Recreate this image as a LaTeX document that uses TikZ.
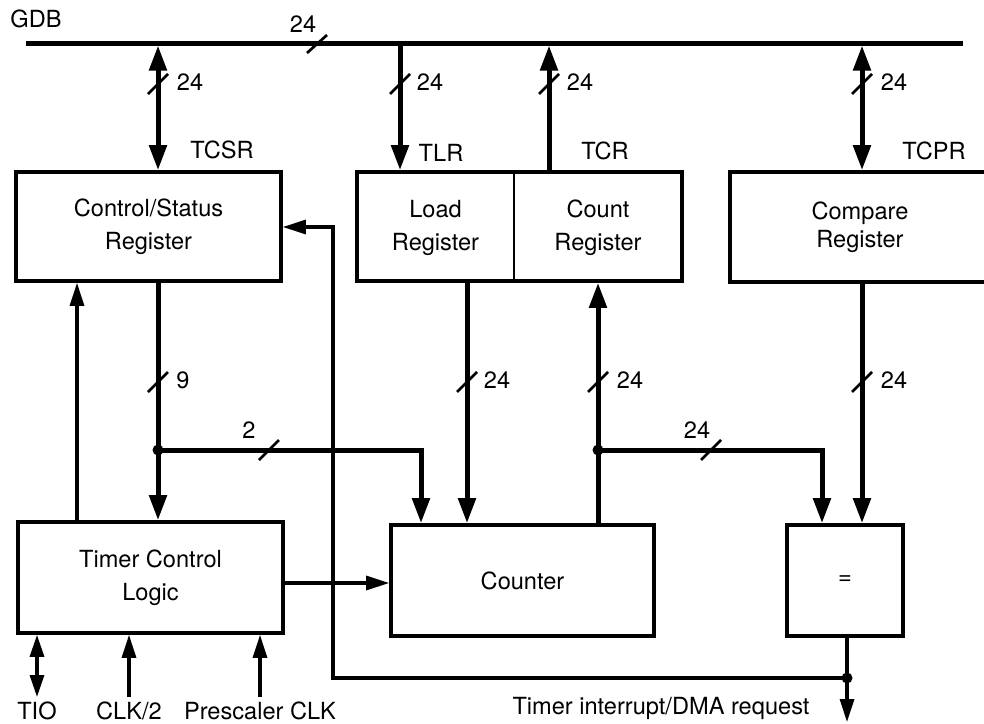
\documentclass[tikz,border=0pt]{standalone}
\usepackage{fontspec}
\setmainfont{TeX Gyre Heros}
\usetikzlibrary{arrows.meta}
\begin{document}
\begin{tikzpicture}[x=1pt,y=-1pt,
  lbl/.style={font=\fontsize{23.6}{33}\selectfont, inner sep=0pt},
  box/.style={draw, line width=3.6pt, align=center, inner sep=0pt, lbl},
  txt/.style={lbl, align=center},
  num/.style={lbl, anchor=base},
  bus/.style={line width=5pt},
  thickarr/.style={line width=5pt, -{Triangle[length=25pt,width=17pt]}},
  thickdbl/.style={line width=5pt, {Triangle[length=25pt,width=17pt]}-{Triangle[length=25pt,width=17pt]}},
  thinline/.style={line width=3.2pt},
  thinarr/.style={line width=3.2pt, -{Triangle[length=23pt,width=14pt]}},
  thindbl/.style={line width=3.2pt, {Triangle[length=22pt,width=14pt]}-{Triangle[length=22pt,width=14pt]}},
  slash/.style={line width=2.7pt},
  dot/.style={circle, fill, inner sep=0pt, minimum size=11pt},
]
\useasboundingbox (0,0) rectangle (984,723);

% ---- boxes
\node[box, minimum width=265pt, minimum height=109pt] (csr) at (148.5,226.5) {Control/Status\\Register};
\node[box, minimum width=325pt, minimum height=109pt] (lcbox) at (519.5,226.5) {};
\node[txt] (load) at (435.5,228) {Load\\Register};
\node[txt] (count) at (598,228) {Count\\Register};
\node[box, minimum width=260pt, minimum height=110pt, font=\fontsize{23.6}{28}\selectfont] (cmp) at (860,227) {Compare\\Register};
\node[box, minimum width=265pt, minimum height=111pt] (tcl) at (150.5,577.5) {Timer Control\\Logic};
\node[box, minimum width=263pt, minimum height=111pt] (ctr) at (522.5,580.5) {Counter};
\node[box, minimum width=116pt, minimum height=111pt] (eq) at (845,580.5) {=};

% divider between Load and Count
\coordinate (div) at (514,226.5);
\draw[line width=1.5pt] (div |- lcbox.north) -- (div |- lcbox.south);

% ---- coordinates
\coordinate (busL) at (26,43);
\coordinate (busR) at (963,43);
\coordinate (tapA) at (158,43);
\coordinate (tapB) at (400,43);
\coordinate (tapC) at (549,43);
\coordinate (tapD) at (862,43);
\coordinate (lx) at (467,400);
\coordinate (fx) at (77,400);
\coordinate (j1) at (158,450);
\coordinate (k1) at (421,450);
\coordinate (j2) at (598,450);
\coordinate (k2) at (822,450);
\coordinate (ty) at (300,583);
\coordinate (o) at (847,678);
\coordinate (fb) at (333,678);
\coordinate (fb2) at (333,227);
\coordinate (irq) at (847,722);
\coordinate (tioE) at (37,697);
\coordinate (clkE) at (129,697);
\coordinate (preE) at (260,697);

% ---- bus
\draw[bus] (busL) -- (busR);
\node[num] (gdb) at (36,27) {GDB};
\node[num] (busw) at (303,32) {24};
\draw[slash] (307,53) -- (327,35);

% ---- bus taps
\draw[thickdbl] ([yshift=-2.5pt]tapA) -- (tapA |- csr.north);
\draw[thickarr] (tapB) -- (tapB |- lcbox.north);
\draw[thickarr] (tapC |- lcbox.north) -- ([yshift=-2.5pt]tapC);
\draw[thickdbl] ([yshift=-2.5pt]tapD) -- (tapD |- cmp.north);
\draw[slash] (148,94) -- (168,74);
\draw[slash] (390,94) -- (410,74);
\draw[slash] (539,94) -- (559,74);
\draw[slash] (852,94) -- (872,74);
\node[num] (wA) at (190,90.5) {24};
\node[num] (wB) at (430,90.5) {24};
\node[num] (wC) at (580,90.5) {24};
\node[num] (wD) at (894,90.5) {24};
\node[num] (ntcsr) at (222,158) {TCSR};
\node[num] (ntlr) at (441,161) {TLR};
\node[num] (ntcr) at (605,159) {TCR};
\node[num] (ntcpr) at (934,159) {TCPR};

% ---- middle thick connections
\draw[thickarr] (tapA |- csr.south) -- (tapA |- tcl.north);
\draw[thickarr] (j1) -- (k1) -- (k1 |- ctr.north);
\draw[thickarr] (lx |- lcbox.south) -- (lx |- ctr.north);
\draw[thickarr] (j2 |- ctr.north) -- (j2 |- lcbox.south);
\draw[thickarr] (j2) -- (k2) -- (k2 |- eq.north);
\draw[thickarr] (tapD |- cmp.south) -- (tapD |- eq.north);
\node[dot] (dj1) at (j1) {};
\node[dot] (dj2) at (j2) {};

\draw[slash] (148,392) -- (168,372);
\draw[slash] (457,392) -- (477,372);
\draw[slash] (588,392) -- (608,372);
\draw[slash] (852,392) -- (872,372);
\draw[slash] (259,460) -- (279,440);
\draw[slash] (701,460) -- (721,440);
\node[num] (w9) at (183,388) {9};
\node[num] (wL) at (497,388) {24};
\node[num] (wK) at (630,388) {24};
\node[num] (wE) at (894,388) {24};
\node[num] (w2) at (249,438) {2};
\node[num] (wB2) at (697,438) {24};

% ---- thin connections
\draw[thinarr] (fx |- tcl.north) -- (fx |- csr.south);
\draw[thinarr] (tcl.east |- ty) -- (ctr.west |- ty);
\draw[thinline] (eq.south -| o) -- (o);
\draw[thinarr] (o) -- (irq);
\draw[thinarr] (o) -- (fb) -- (fb2) -- (csr.east |- fb2);
\node[dot] (dout) at (o) {};
\node[num] (irqlbl) at (661,714) {Timer interrupt/DMA request};

% ---- bottom inputs
\draw[thindbl] (tioE) -- (tioE |- tcl.south);
\draw[thinarr] (clkE) -- (clkE |- tcl.south);
\draw[thinarr] (preE) -- (preE |- tcl.south);
\node[num] (tio) at (37,719) {TIO};
\node[num] (clk) at (129,719) {CLK/2};
\node[num] (pre) at (260,719) {Prescaler CLK};
\end{tikzpicture}
\end{document}
